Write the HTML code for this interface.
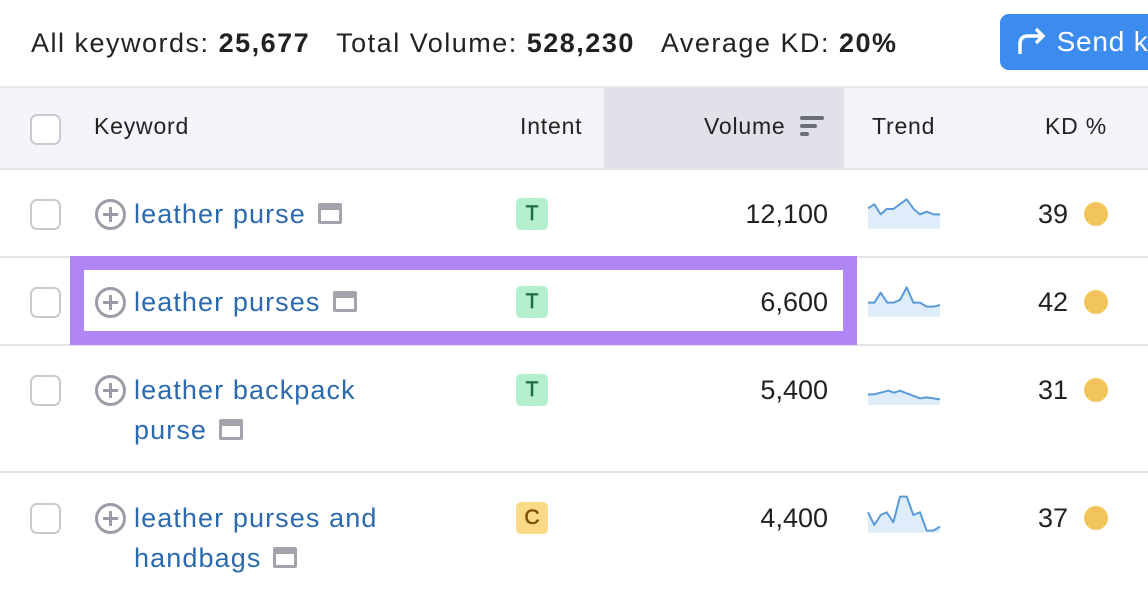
<!DOCTYPE html>
<html><head><meta charset="utf-8"><style>
*{margin:0;padding:0;box-sizing:border-box}
body{width:1148px;height:596px;background:#fff;position:relative;overflow:hidden;font-family:"Liberation Sans",sans-serif;color:#222}
.a{position:absolute;white-space:nowrap}
.t{font-size:27px;line-height:30px;letter-spacing:1.1px}
.cb{position:absolute;left:30px;width:31px;height:31px;border:2px solid #c9cad1;border-radius:7px;background:#fff}
.plus{position:absolute;left:95px;width:31px;height:31px;border:3px solid #9c9ca6;border-radius:50%}
.plus:before{content:"";position:absolute;left:5px;top:11px;width:15px;height:3px;background:#9c9ca6}
.plus:after{content:"";position:absolute;left:11px;top:5px;width:3px;height:15px;background:#9c9ca6}
.kw{color:#2d69ad}
.ic{display:inline-block;width:24px;height:21px;border:3px solid #a3a3ab;border-top-width:7px;border-radius:2px;vertical-align:-1px;margin-left:12px}
.b{position:absolute;left:516px;width:32px;height:32px;border-radius:5px;font-size:21px;text-align:center;line-height:32px;-webkit-text-stroke:0.5px}
.bt{background:#b4efcd;color:#1a6a43}
.bc{background:#fad987;color:#7a4d00}
.vol{position:absolute;right:320px;font-size:27px;line-height:30px}
.kd{position:absolute;right:80px;font-size:27px;line-height:30px}
.dot{position:absolute;left:1084px;width:24px;height:24px;border-radius:50%;background:#f2c55a}
.ln{position:absolute;left:0;width:1148px;height:2px;background:#e3e4e8}
.h{font-size:23px;line-height:28px;letter-spacing:0.8px}
.g{display:inline-block;width:26px}
</style></head><body>
<div class="a" style="left:31px;top:28px;font-size:27px;line-height:30px;letter-spacing:1.5px">All keywords: <b>25,677</b><span class="g"></span>Total Volume: <b>528,230</b><span class="g"></span>Average KD: <b>20%</b></div>
<div class="a" style="left:1000px;top:14px;width:160px;height:56px;background:#3c8cf0;border-radius:9px;color:#fff;font-size:28px;line-height:56px;padding-left:16px;letter-spacing:0.8px">
<svg width="32" height="30" viewBox="0 0 32 30" style="vertical-align:-5px"><path d="M4 28 V18 Q4 10 12 10 H26" stroke="#fff" stroke-width="3.5" fill="none"/><path d="M20 3 L27 10 L20 17" stroke="#fff" stroke-width="3.5" fill="none"/></svg> Send k</div>
<div class="a" style="left:0;top:86px;width:1148px;height:84px;background:#f4f5f9;border-top:2px solid #e6e7eb"></div>
<div class="a" style="left:604px;top:88px;width:240px;height:82px;background:#e0e1e9"></div>
<div class="ln" style="top:168px"></div>
<div class="cb" style="top:114px"></div>
<div class="a h" style="left:94px;top:112px">Keyword</div>
<div class="a h" style="left:520px;top:112px">Intent</div>
<div class="a h" style="left:704px;top:112px">Volume</div>
<div class="a" style="left:800px;top:116px;width:24px;height:4px;background:#6b6f7a;border-radius:2px"></div>
<div class="a" style="left:800px;top:124px;width:17px;height:4px;background:#6b6f7a;border-radius:2px"></div>
<div class="a" style="left:800px;top:132px;width:9px;height:4px;background:#6b6f7a;border-radius:2px"></div>
<div class="a h" style="left:872px;top:112px">Trend</div>
<div class="a h" style="left:1045px;top:112px">KD %</div>

<div class="ln" style="top:256px"></div>
<div class="ln" style="top:344px"></div>
<div class="ln" style="top:471px"></div>

<div class="a" style="left:70px;top:256px;width:787px;height:89px;border:14px solid #b086f5;background:#fff"></div>

<!-- row1 -->
<div class="cb" style="top:199px"></div><div class="plus" style="top:199px"></div>
<div class="a t kw" style="left:134px;top:199px">leather purse<span class="ic"></span></div>
<div class="b bt" style="top:198px">T</div>
<div class="vol" style="top:199px">12,100</div>
<div class="kd" style="top:199px">39</div><div class="dot" style="top:202px"></div>
<!-- row2 -->
<div class="cb" style="top:287px"></div><div class="plus" style="top:287px"></div>
<div class="a t kw" style="left:134px;top:287px">leather purses<span class="ic"></span></div>
<div class="b bt" style="top:286px">T</div>
<div class="vol" style="top:287px">6,600</div>
<div class="kd" style="top:287px">42</div><div class="dot" style="top:290px"></div>
<!-- row3 -->
<div class="cb" style="top:375px"></div><div class="plus" style="top:375px"></div>
<div class="a t kw" style="left:134px;top:375px">leather backpack</div>
<div class="a t kw" style="left:134px;top:415px">purse<span class="ic"></span></div>
<div class="b bt" style="top:374px">T</div>
<div class="vol" style="top:375px">5,400</div>
<div class="kd" style="top:375px">31</div><div class="dot" style="top:378px"></div>
<!-- row4 -->
<div class="cb" style="top:503px"></div><div class="plus" style="top:503px"></div>
<div class="a t kw" style="left:134px;top:503px">leather purses and</div>
<div class="a t kw" style="left:134px;top:543px">handbags<span class="ic"></span></div>
<div class="b bc" style="top:502px">C</div>
<div class="vol" style="top:503px">4,400</div>
<div class="kd" style="top:503px">37</div><div class="dot" style="top:506px"></div>

<svg class="a" style="left:840px;top:180px" width="308" height="380" viewBox="0 0 924 1140">
<g fill="#dfedfb" stroke="none">
<path d="M84 85 L103 73 L122 103 L140 87 L160 87 L200 58 L222 88 L240 103 L260 95 L280 103 L300 103 L300 146 L84 146Z"/>
<path d="M84 368 L103 368 L122 338 L142 368 L160 368 L180 360 L200 322 L220 368 L240 368 L260 380 L280 380 L300 375 L300 410 L84 410Z"/>
<path d="M84 643 L103 643 L145 632 L162 638 L180 632 L200 640 L240 655 L260 652 L300 658 L300 675 L84 675Z"/>
<path d="M84 997 L103 1035 L122 1005 L140 997 L160 1027 L180 950 L200 950 L220 1005 L240 997 L260 1052 L280 1052 L300 1040 L300 1058 L84 1058Z"/>
</g>
<g fill="none" stroke="#5a9ad8" stroke-width="6" stroke-linejoin="round">
<path d="M84 85 L103 73 L122 103 L140 87 L160 87 L200 58 L222 88 L240 103 L260 95 L280 103 L300 103"/>
<path d="M84 368 L103 368 L122 338 L142 368 L160 368 L180 360 L200 322 L220 368 L240 368 L260 380 L280 380 L300 375"/>
<path d="M84 643 L103 643 L145 632 L162 638 L180 632 L200 640 L240 655 L260 652 L300 658"/>
<path d="M84 997 L103 1035 L122 1005 L140 997 L160 1027 L180 950 L200 950 L220 1005 L240 997 L260 1052 L280 1052 L300 1040"/>
</g>
</svg>
</body></html>
